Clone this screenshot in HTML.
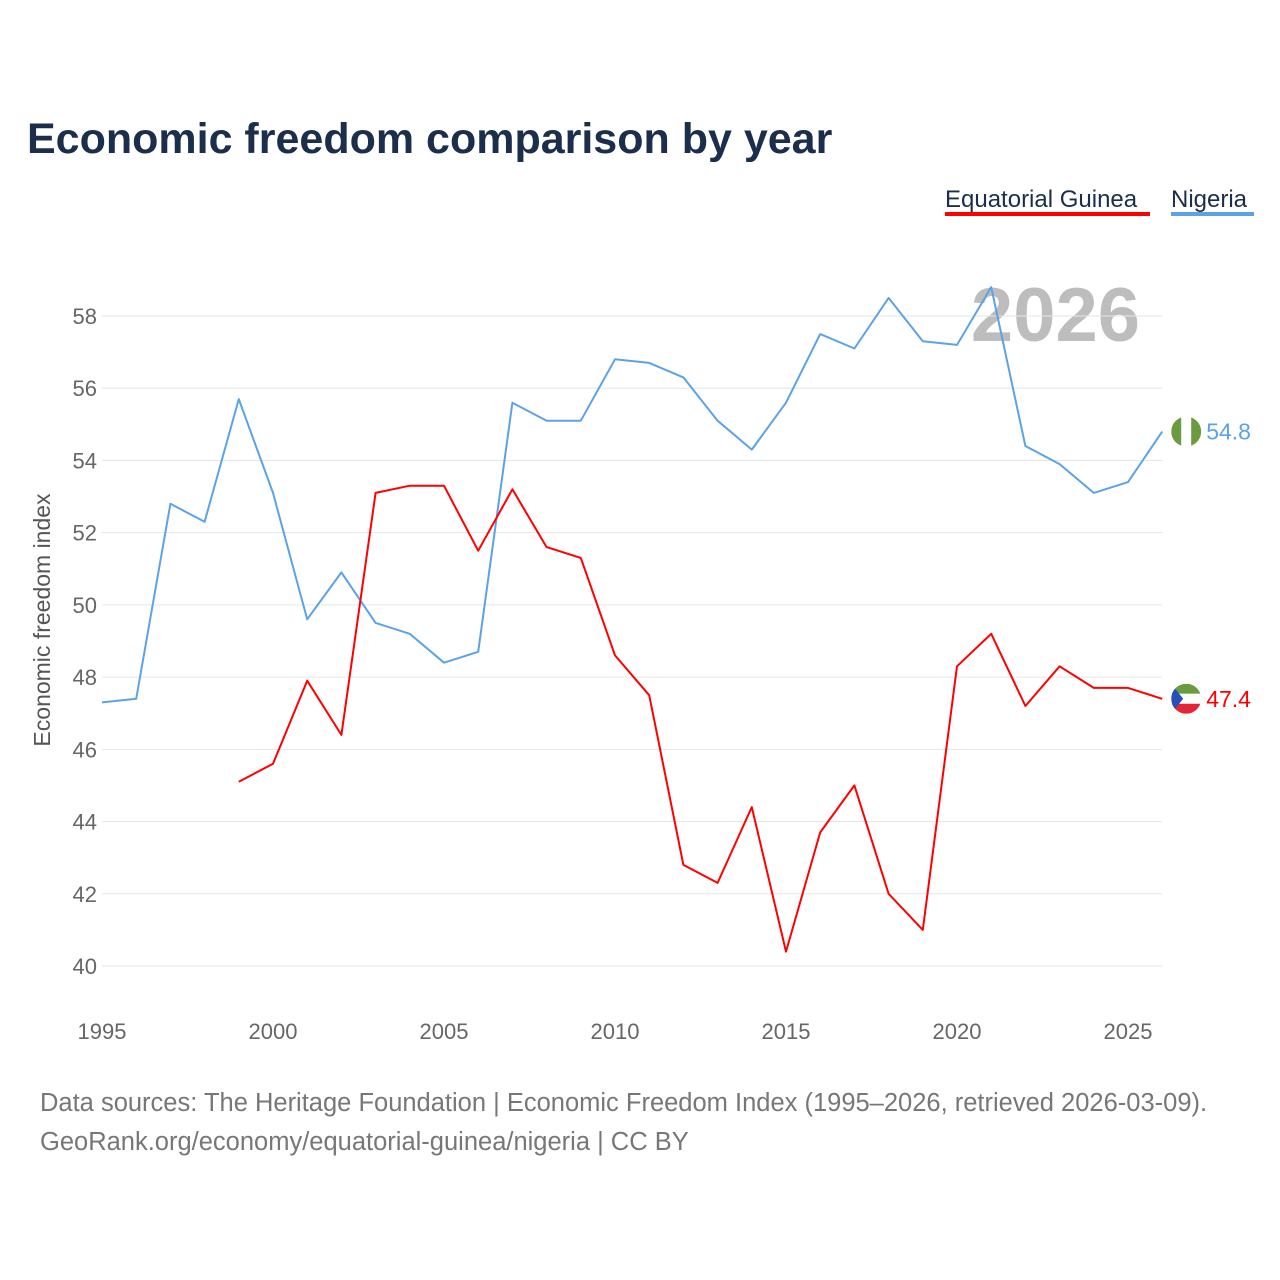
<!DOCTYPE html>
<html><head><meta charset="utf-8">
<style>
body{margin:0;background:#fff;font-family:"Liberation Sans",sans-serif;}
svg{display:block}
</style></head>
<body>
<svg id="chart" width="1280" height="1280" viewBox="0 0 1280 1280">
<text x="27" y="153" font-size="43" font-weight="bold" fill="#1b2e4b">Economic freedom comparison by year</text>
<g>
<text x="945" y="207" font-size="24" fill="#1b2e4b">Equatorial Guinea</text>
<rect x="945" y="212" width="205" height="4" fill="#ff0000"/>
<text x="1171" y="207" font-size="24" fill="#1b2e4b">Nigeria</text>
<rect x="1171" y="212" width="83" height="4" fill="#5ba3e6"/>
</g>
<text x="1140" y="341" text-anchor="end" font-size="76" font-weight="bold" fill="#bdbdbd">2026</text>
<g id="grid"></g>
<g id="yticks"></g>
<g id="xticks"></g>
<text transform="translate(50,620) rotate(-90)" text-anchor="middle" font-size="23" fill="#555">Economic freedom index</text>
<g id="series"></g>
<text x="40" y="1111" font-size="25.5" fill="#777">Data sources: The Heritage Foundation | Economic Freedom Index (1995–2026, retrieved 2026-03-09).</text>
<text x="40" y="1150" font-size="25.5" fill="#777">GeoRank.org/economy/equatorial-guinea/nigeria | CC BY</text>
</svg>
<script>
const years = [1995,1996,1997,1998,1999,2000,2001,2002,2003,2004,2005,2006,2007,2008,2009,2010,2011,2012,2013,2014,2015,2016,2017,2018,2019,2020,2021,2022,2023,2024,2025,2026];
const nigeria = [47.3,47.4,52.8,52.3,55.7,53.1,49.6,50.9,49.5,49.2,48.4,48.7,55.6,55.1,55.1,56.8,56.7,56.3,55.1,54.3,55.6,57.5,57.1,58.5,57.3,57.2,58.8,54.4,53.9,53.1,53.4,54.8];
const eqGuinea = [null,null,null,null,45.1,45.6,47.9,46.4,53.1,53.3,53.3,51.5,53.2,51.6,51.3,48.6,47.5,42.8,42.3,44.4,40.4,43.7,45.0,42.0,41.0,48.3,49.2,47.2,48.3,47.7,47.7,47.4];
const yTicks = [40,42,44,46,48,50,52,54,56,58];
const xTicks = [1995,2000,2005,2010,2015,2020,2025];

const NS="http://www.w3.org/2000/svg";
const X0=102, X1=1128, Y0=966, Y1=316;
function xs(y){return X0+(y-1995)*(X1-X0)/30;}
function ys(v){return Y0-(v-40)*(Y0-Y1)/18;}
function mk(tag,attrs,parent){const e=document.createElementNS(NS,tag);for(const k in attrs)e.setAttribute(k,attrs[k]);parent.appendChild(e);return e;}
const grid=document.getElementById('grid'), yt=document.getElementById('yticks'), xt=document.getElementById('xticks'), ser=document.getElementById('series');
yTicks.forEach(v=>{
  const l=mk('line',{x1:X0,x2:1162,y1:ys(v),y2:ys(v),stroke:'#e6e6e6','stroke-width':1},grid);
  
  
  const t=mk('text',{x:97,y:ys(v)+8,'text-anchor':'end','font-size':22,fill:'#666'},yt);
  t.textContent=v;
  
  
});
xTicks.forEach(v=>{
  const t=mk('text',{x:xs(v),y:1039,'text-anchor':'middle','font-size':22,fill:'#666'},xt);
  t.textContent=v;
  
  
});
function line(vals,color,name){
  let d='';
  vals.forEach((v,i)=>{if(v==null)return;d+=(d?'L':'M')+xs(years[i]).toFixed(1)+','+ys(v).toFixed(1);});
  const p=mk('path',{d:d,fill:'none',stroke:color,'stroke-width':2,'stroke-linejoin':'round'},ser);
  
  
  const last=vals[vals.length-1], lx=xs(years[years.length-1]), ly=ys(last);
  const t=mk('text',{x:lx+44,y:ly+8,'font-size':23,fill:color},ser);
  t.textContent=last.toFixed(1);
  
  
  return {lx,ly};
}
const n=line(nigeria,'#5ba3e6','nigeria');
const e=line(eqGuinea,'#ff0000','equatorial-guinea');
const fn=mk('g',{},ser);


const cn=mk('clipPath',{id:'cn'},fn);
mk('circle',{cx:n.lx+24,cy:n.ly,r:15},cn);
const gn=mk('g',{'clip-path':'url(#cn)'},fn);
mk('rect',{x:n.lx+9,y:n.ly-15,width:30,height:30,fill:'#fff'},gn);
mk('rect',{x:n.lx+9,y:n.ly-15,width:10,height:30,fill:'#6a9b3e'},gn);
mk('rect',{x:n.lx+29,y:n.ly-15,width:10,height:30,fill:'#6a9b3e'},gn);
const fe=mk('g',{},ser);


const ce=mk('clipPath',{id:'ce'},fe);
mk('circle',{cx:e.lx+24,cy:e.ly,r:15},ce);
const ge=mk('g',{'clip-path':'url(#ce)'},fe);
mk('rect',{x:e.lx+9,y:e.ly-15,width:30,height:10,fill:'#6a9b3e'},ge);
mk('rect',{x:e.lx+9,y:e.ly-5,width:30,height:10,fill:'#fff'},ge);
mk('rect',{x:e.lx+9,y:e.ly+5,width:30,height:10,fill:'#e32636'},ge);
mk('polygon',{points:`${e.lx+9},${e.ly-15} ${e.lx+21},${e.ly} ${e.lx+9},${e.ly+15}`,fill:'#2451b8'},ge);
</script>
</body></html>
